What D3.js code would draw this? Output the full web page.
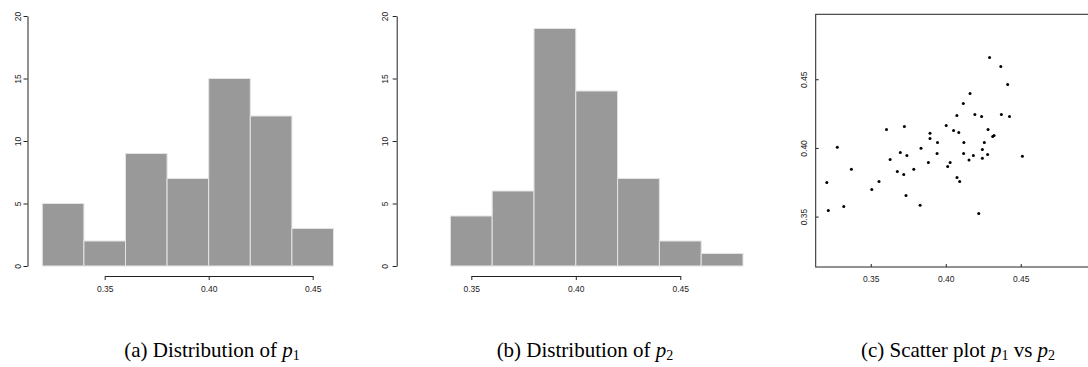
<!DOCTYPE html>
<html>
<head>
<meta charset="utf-8">
<script src="https://cdn.jsdelivr.net/npm/d3@7"></script>
<style>
  html, body { margin: 0; padding: 0; background: #fff; }
  svg { display: block; }
  .tick text { font-family: "Liberation Sans", Arial, sans-serif; font-size: 8.5px; fill: #222; }
  .caption { font-family: "Liberation Serif", "Times New Roman", serif; font-size: 21px; fill: #000; }
</style>
</head>
<body>
<svg id="fig" width="1088" height="367"></svg>
<script>
// Histogram of p1: bin edges and counts
const binEdgesP1 = [0.32, 0.34, 0.36, 0.38, 0.40, 0.42, 0.44, 0.46];
const countsP1   = [5, 2, 9, 7, 15, 12, 3];

// Histogram of p2: bin edges and counts
const binEdgesP2 = [0.34, 0.36, 0.38, 0.40, 0.42, 0.44, 0.46, 0.48];
const countsP2   = [4, 6, 19, 14, 7, 2, 1];

// Shared tick values
const histXTicks = [0.35, 0.40, 0.45];
const histYTicks = [0, 5, 10, 15, 20];
const scatterTicks = [0.35, 0.40, 0.45];
const scatterLimits = [0.3133, 0.4973];

// Paired observations (p1, p2)
const p1 = [0.4292, 0.4367, 0.4413, 0.4162, 0.4117, 0.4074, 0.4194, 0.4239, 0.4371, 0.4425,
            0.3605, 0.3724, 0.4003, 0.4052, 0.4087, 0.3895, 0.3895, 0.3945, 0.4121, 0.4282,
            0.4313, 0.4322, 0.4257, 0.3277, 0.3835, 0.4244, 0.3697, 0.3741, 0.3942, 0.4119,
            0.4184, 0.4279, 0.4511, 0.3629, 0.4155, 0.4244, 0.3884, 0.4013, 0.4029, 0.3677,
            0.3720, 0.3371, 0.3787, 0.3207, 0.3555, 0.3507, 0.4075, 0.4093, 0.3735, 0.3217,
            0.3320, 0.3829, 0.4220];
const p2 = [0.4659, 0.4593, 0.4462, 0.4397, 0.4324, 0.4237, 0.4244, 0.4229, 0.4244, 0.4229,
            0.4135, 0.4156, 0.4164, 0.4127, 0.4113, 0.4106, 0.4069, 0.4040, 0.4040, 0.4135,
            0.4084, 0.4091, 0.4040, 0.4005, 0.3998, 0.3989, 0.3967, 0.3945, 0.3960, 0.3960,
            0.3945, 0.3953, 0.3940, 0.3916, 0.3912, 0.3924, 0.3894, 0.3865, 0.3894, 0.3829,
            0.3807, 0.3844, 0.3844, 0.3749, 0.3756, 0.3698, 0.3785, 0.3756, 0.3654, 0.3545,
            0.3574, 0.3582, 0.3523];

const captions = [
  { tag: "(a) Distribution of ", v: "p", sub: "1", tail: "" },
  { tag: "(b) Distribution of ", v: "p", sub: "2", tail: "" },
  { tag: "(c) Scatter plot ", v: "p", sub: "1", tail: " vs ", v2: "p", sub2: "2" }
];

const svg = d3.select("#fig");
const AXIS = "#222";
const BAR_FILL = "#999999";
const BAR_EDGE = "#e4e4e4";

function histogram(edges, counts, axisX, xRange, labelShift) {
  const x = d3.scaleLinear().domain([0.35, 0.45]).range(xRange);
  const y = d3.scaleLinear().domain([0, 20]).range([266, 16]);
  const g = svg.append("g");

  g.selectAll("rect").data(counts).join("rect")
    .attr("x", (d, i) => x(edges[i]))
    .attr("width", (d, i) => x(edges[i + 1]) - x(edges[i]))
    .attr("y", d => y(d))
    .attr("height", d => y(0) - y(d))
    .attr("fill", BAR_FILL)
    .attr("stroke", BAR_EDGE)
    .attr("stroke-width", 1);

  const ya = g.append("g").attr("transform", `translate(${axisX},0)`)
    .call(d3.axisLeft(y).tickValues(histYTicks).tickSizeInner(4).tickSizeOuter(0));
  ya.select(".domain").attr("stroke", AXIS);
  ya.selectAll(".tick line").attr("stroke", AXIS);
  ya.selectAll(".tick text")
    .attr("x", 0).attr("dy", 0)
    .attr("text-anchor", "middle")
    .attr("transform", `translate(${labelShift},0) rotate(-90)`);

  const xa = g.append("g").attr("transform", "translate(0,276)")
    .call(d3.axisBottom(x).tickValues(histXTicks).tickFormat(d3.format(".2f"))
      .tickSizeInner(4).tickSizeOuter(0));
  xa.select(".domain").attr("stroke", AXIS);
  xa.selectAll(".tick line").attr("stroke", AXIS);
  xa.selectAll(".tick text").attr("y", 15.5).attr("dy", 0);
}

histogram(binEdgesP1, countsP1, 27.5, [104.7, 312.7], -7);
histogram(binEdgesP2, countsP2, 396.7, [471.3, 680.3], -9);

// Scatter plot of p1 against p2
(function scatter() {
  const x = d3.scaleLinear().domain(scatterLimits).range([815.7, 1091.7]);
  const y = d3.scaleLinear().domain(scatterLimits).range([267, 14.3]);
  const g = svg.append("g");

  g.append("rect")
    .attr("x", x(scatterLimits[0])).attr("y", y(scatterLimits[1]))
    .attr("width", x(scatterLimits[1]) - x(scatterLimits[0]))
    .attr("height", y(scatterLimits[0]) - y(scatterLimits[1]))
    .attr("fill", "none").attr("stroke", AXIS).attr("stroke-width", 1);

  const xa = g.append("g").attr("transform", `translate(0,${y(scatterLimits[0])})`)
    .call(d3.axisBottom(x).tickValues(scatterTicks).tickFormat(d3.format(".2f"))
      .tickSizeInner(-3).tickSizeOuter(0));
  xa.select(".domain").remove();
  xa.selectAll(".tick line").attr("stroke", AXIS);
  xa.selectAll(".tick text").attr("y", 14.5).attr("dy", 0);

  const ya = g.append("g").attr("transform", `translate(${x(scatterLimits[0])},0)`)
    .call(d3.axisLeft(y).tickValues(scatterTicks).tickFormat(d3.format(".2f"))
      .tickSizeInner(-3).tickSizeOuter(0));
  ya.select(".domain").remove();
  ya.selectAll(".tick line").attr("stroke", AXIS);
  ya.selectAll(".tick text")
    .attr("x", 0).attr("dy", 0)
    .attr("text-anchor", "middle")
    .attr("transform", "translate(-8.5,0) rotate(-90)");

  g.selectAll("circle").data(d3.range(p1.length)).join("circle")
    .attr("cx", i => x(p1[i]))
    .attr("cy", i => y(p2[i]))
    .attr("r", 1.5)
    .attr("fill", "#000");
})();

// Sub-figure captions
const captionX = [212, 585, 958];
captions.forEach((c, i) => {
  const t = svg.append("text").attr("class", "caption")
    .attr("x", captionX[i]).attr("y", 357).attr("text-anchor", "middle");
  t.append("tspan").text(c.tag);
  t.append("tspan").attr("font-style", "italic").text(c.v);
  t.append("tspan").attr("font-size", "14px").attr("dy", 3).text(c.sub);
  if (c.v2) {
    t.append("tspan").attr("dy", -3).text(c.tail);
    t.append("tspan").attr("font-style", "italic").text(c.v2);
    t.append("tspan").attr("font-size", "14px").attr("dy", 3).text(c.sub2);
  }
});
</script>
</body>
</html>
